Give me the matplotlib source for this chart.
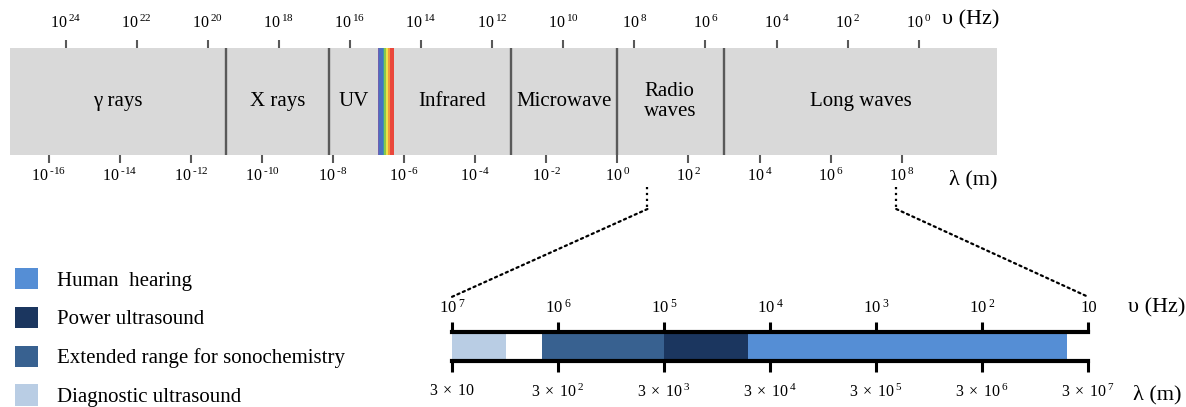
import numpy as np
import matplotlib.pyplot as plt
import matplotlib.transforms as mtransforms
from matplotlib.patches import Patch, ConnectionPatch
from matplotlib.ticker import NullLocator

plt.rcParams['font.family'] = ['Liberation Serif', 'DejaVu Serif']
plt.rcParams['mathtext.fontset'] = 'custom'
plt.rcParams['mathtext.rm'] = 'Liberation Serif'
plt.rcParams['mathtext.it'] = 'Liberation Serif:italic'
plt.rcParams['mathtext.bf'] = 'Liberation Serif:bold'

C = 3e8  # m/s

# --- electromagnetic spectrum (wavelength in m) ---
lam_view = (10**-17.09, 10**10.68)
region_names = ["γ rays", "X rays", "UV", "Infrared", "Microwave", "Radio\nwaves", "Long waves"]
region_bounds = [(lam_view[0], 1e-11), (1e-11, 7.6e-9), (7.6e-9, 1.8e-7), (5.2e-7, 1e-3),
                 (1e-3, 1.0), (1.0, 1e3), (1e3, lam_view[1])]
dividers = [1e-11, 7.6e-9, 1e-3, 1.0, 1e3]
visible = (1.8e-7, 5.2e-7)
visible_colors = ['#6f5fb0', '#4b70c0', '#3c9aa8', '#8ac84c', '#ece34a', '#f39a3a', '#ea473b']
visible_weights = [4, 12, 4, 6, 5, 7, 13]

freq_exp = [24, 22, 20, 18, 16, 14, 12, 10, 8, 6, 4, 2, 0]
lam_exp = [-16, -14, -12, -10, -8, -6, -4, -2, 0, 2, 4, 6, 8]

# --- ultrasound ranges (frequency in Hz) ---
us_names = ["Human  hearing", "Power ultrasound", "Extended range for sonochemistry", "Diagnostic ultrasound"]
us_colors = ["#558ed5", "#1b365f", "#386190", "#b9cde4"]
us_ranges = [(16, 1.6e4), (1.6e4, 1e5), (1e5, 1.4e6), (3.1e6, 1e7)]
us_freq_ticks = [1e7, 1e6, 1e5, 1e4, 1e3, 1e2, 10]
us_freq_labels = [r'$10^{\;7}$', r'$10^{\;6}$', r'$10^{\;5}$', r'$10^{\;4}$', r'$10^{\;3}$', r'$10^{\;2}$', '10']
us_lam_labels = [r'$3\;\times\;10$', r'$3\;\times\;10^{\;2}$', r'$3\;\times\;10^{\;3}$', r'$3\;\times\;10^{\;4}$',
                 r'$3\;\times\;10^{\;5}$', r'$3\;\times\;10^{\;6}$', r'$3\;\times\;10^{\;7}$']

# zoom connectors: top-bar wavelength -> lower-bar frequency
zoom_src_lam = [7.0, 7e7]
zoom_dst_freq = [1e7, 10]

W, H = 1186, 407
fig = plt.figure(figsize=(W / 100, H / 100), dpi=100)


def box(l, t, r, b):
    return [l / W, 1 - b / H, (r - l) / W, (b - t) / H]


def sup(e):
    s = str(e) if e >= 0 else r'\text{-}' + str(-e)
    return r'$10^{\;' + s + '}$'


# top bar
ax = fig.add_axes(box(10, 48, 997, 155))
ax.set_facecolor('#d9d9d9')
ax.set_xscale('log')
ax.set_xlim(*lam_view)
ax.set_ylim(0, 1)
ax.set_yticks([])
for s in ax.spines.values():
    s.set_visible(False)
tr = mtransforms.blended_transform_factory(ax.transData, ax.transAxes)

cum = np.concatenate([[0], np.cumsum(visible_weights)]) / sum(visible_weights)
lv = np.log10(visible[0]) + cum * (np.log10(visible[1]) - np.log10(visible[0]))
for i, c in enumerate(visible_colors):
    ax.axvspan(10**lv[i], 10**lv[i + 1], color=c, lw=0)

for d in dividers:
    ax.axvline(d, color='#595959', lw=1.7)

for name, (a, b) in zip(region_names, region_bounds):
    ax.text(np.sqrt(a * b), 0.5, name, transform=tr, ha='center', va='center',
            fontsize=15, multialignment='left', linespacing=1.05)

ax.set_xticks([10.0**e for e in lam_exp])
ax.set_xticklabels([sup(e) for e in lam_exp])
ax.xaxis.set_minor_locator(NullLocator())
ax.tick_params(axis='x', direction='out', length=5.5, width=1.5, color='#595959', pad=4, labelsize=11.5)

axf = ax.twiny()
axf.set_xscale('log')
axf.set_xlim(C / lam_view[0], C / lam_view[1])
axf.set_xticks([10.0**e for e in freq_exp])
axf.set_xticklabels([sup(e) for e in freq_exp])
axf.xaxis.set_minor_locator(NullLocator())
axf.tick_params(axis='x', direction='out', length=5.5, width=1.5, color='#595959', pad=6, labelsize=11.5)
for s in axf.spines.values():
    s.set_visible(False)

ax.text(1.002, 1.262, 'υ (Hz)', transform=ax.transAxes, ha='right', va='center', fontsize=16)
ax.text(1.001, -0.234, 'λ (m)', transform=ax.transAxes, ha='right', va='center', fontsize=16)

# lower ultrasound bar
axl = fig.add_axes(box(451.8, 332, 1088.3, 361))
axl.set_xscale('log')
axl.set_xlim(1e7, 10)
axl.set_ylim(0, 1)
axl.set_yticks([])
axl.spines['left'].set_visible(False)
axl.spines['right'].set_visible(False)
for k in ('top', 'bottom'):
    axl.spines[k].set_linewidth(3)
    axl.spines[k].set_color('black')
for (a, b), c in zip(us_ranges, us_colors):
    axl.axvspan(a, b, color=c, lw=0)
axl.set_xticks(us_freq_ticks)
axl.set_xticklabels(us_lam_labels)
axl.xaxis.set_minor_locator(NullLocator())
axl.tick_params(axis='x', direction='out', length=8, width=2.2, color='black', pad=8, labelsize=11.5)

axt = axl.twiny()
axt.set_xscale('log')
axt.set_xlim(1e7, 10)
axt.set_xticks(us_freq_ticks)
axt.set_xticklabels(us_freq_labels)
axt.xaxis.set_minor_locator(NullLocator())
axt.tick_params(axis='x', direction='out', length=7.2, width=2.2, color='black', pad=4, labelsize=12)
for s in axt.spines.values():
    s.set_visible(False)

axl.text(1.062, 1.83, 'υ (Hz)', transform=axl.transAxes, ha='left', va='center', fontsize=16)
axl.text(1.070, -1.17, 'λ (m)', transform=axl.transAxes, ha='left', va='center', fontsize=16)

# dotted zoom connectors
trl = mtransforms.blended_transform_factory(axl.transData, axl.transAxes)
for lam, f in zip(zoom_src_lam, zoom_dst_freq):
    ax.plot([lam, lam], [-0.299, -0.505], transform=tr, clip_on=False, ls=':', color='black', lw=1.6)
    con = ConnectionPatch(xyA=(lam, -0.505), coordsA=tr, xyB=(f, 2.21), coordsB=trl,
                          ls=':', color='black', lw=1.6)
    fig.add_artist(con)

# legend
handles = [Patch(facecolor=c, edgecolor='none') for c in us_colors]
fig.legend(handles=handles, labels=us_names, loc='upper left', bbox_to_anchor=(15 / W, 1 - 268 / H),
           frameon=False, fontsize=15, handlelength=1.1, handleheight=1.2, handletextpad=0.9,
           labelspacing=0.77, borderpad=0, borderaxespad=0)

fig.savefig('out.png', dpi=100)
